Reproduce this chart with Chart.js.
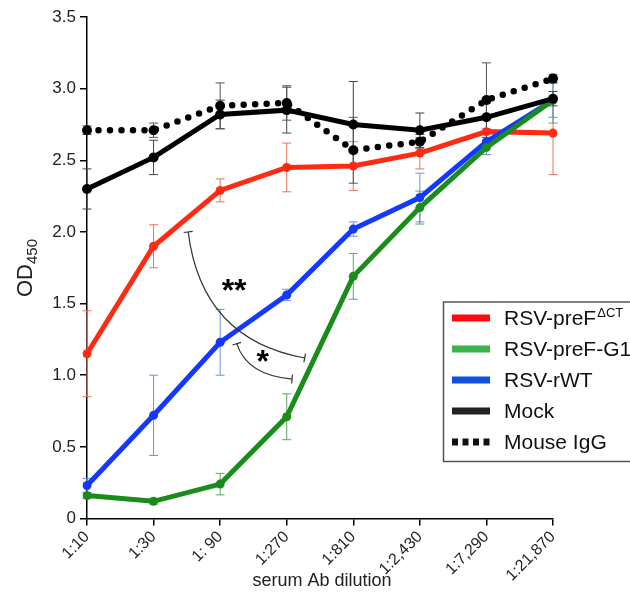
<!DOCTYPE html>
<html lang="en">
<head>
<meta charset="UTF-8">
<title>OD450 vs serum Ab dilution</title>
<script src="https://cdn.jsdelivr.net/npm/chart.js"></script>
<style>
  html, body { margin: 0; padding: 0; background: #fff; }
  #grafico { display: block; }
</style>
</head>
<body>
<canvas id="grafico" width="630" height="599"></canvas>
<script>
// diluicoes do soro (eixo x)
const diluicoes = ['1:10', '1:30', '1: 90', '1:270', '1:810', '1:2,430', '1:7,290', '1:21,870'];

// valores de OD450, com desvio
const preFdCT    = [1.15, 1.90, 2.29, 2.45, 2.46, 2.55, 2.70, 2.69];
const preFdCTErr = [0.30, 0.15, 0.08, 0.17, 0.17, 0.11, 0.11, 0.29];
const preFG1     = [0.16, 0.12, 0.24, 0.71, 1.69, 2.17, 2.59, 2.92];
const preFG1Err  = [0.02, 0.02, 0.075, 0.16, 0.16, 0.115, 0.05, 0.16];
const rWT        = [0.23, 0.72, 1.23, 1.56, 2.02, 2.24, 2.63, 2.92];
const rWTErr     = [0.05, 0.28, 0.23, 0.04, 0.05, 0.17, 0.09, 0.12];
const mock       = [2.30, 2.52, 2.82, 2.85, 2.75, 2.71, 2.80, 2.93];
const mockErr    = [0.14, 0.12, 0.10, 0.16, 0.30, 0.12, 0.10, 0.05];
const mouseIgG   = [2.71, 2.71, 2.88, 2.90, 2.57, 2.63, 2.92, 3.07];
const mouseIgGErr = [0.03, 0.05, 0.16, 0.12, 0.23, 0.05, 0.26, 0.03];

// ticks do eixo y
const yTicks = [0, 0.5, 1.0, 1.5, 2.0, 2.5, 3.0, 3.5];

// colchetes de significancia: [inicio, controle, fim] em (indice, OD)
const colchetes = [
  { ini: [1.52, 2.00], ctrl: [1.72, 1.25], fim: [3.27, 1.12], texto: '**', pos: [2.21, 1.64] },
  { ini: [2.25, 1.22], ctrl: [2.40, 1.00], fim: [3.08, 0.973], texto: '*', pos: [2.64, 1.15] }
];

const FONTE = '"Liberation Sans", Arial, Helvetica, sans-serif';

const series = [
  { nome: 'RSV-preF', sup: '\u0394CT', dados: preFdCT, err: preFdCTErr, cor: '#ff2a12', corErr: '#e8735f', corLeg: '#ff0a0a' },
  { nome: 'RSV-preF-G1', dados: preFG1, err: preFG1Err, cor: '#198c1c', corErr: '#5aa85a', corLeg: '#3cb34a' },
  { nome: 'RSV-rWT', dados: rWT, err: rWTErr, cor: '#1438ff', corErr: '#6e8ef0', corLeg: '#1050e0' },
  { nome: 'Mock', dados: mock, err: mockErr, cor: '#000000', corErr: '#444444', corLeg: '#222222' },
  { nome: 'Mouse IgG', dados: mouseIgG, err: mouseIgGErr, cor: '#000000', corErr: '#555555', corLeg: '#111111', pontilhado: true }
];

const ordem = [4, 2, 3, 1, 0];

const extras = {
  id: 'extras',
  beforeDatasetsDraw(chart) {
    const { ctx, scales: { x, y } } = chart;
    ctx.save();
    ctx.lineWidth = 1;
    series.forEach(s => {
      ctx.strokeStyle = s.corErr;
      s.dados.forEach((v, i) => {
        const px = x.getPixelForValue(i);
        const top = y.getPixelForValue(v + s.err[i]);
        const bot = y.getPixelForValue(v - s.err[i]);
        ctx.beginPath();
        ctx.moveTo(px, top); ctx.lineTo(px, bot);
        ctx.moveTo(px - 4.5, top); ctx.lineTo(px + 4.5, top);
        ctx.moveTo(px - 4.5, bot); ctx.lineTo(px + 4.5, bot);
        ctx.stroke();
      });
    });
    ctx.restore();
  },
  afterDraw(chart) {
    const { ctx, scales: { x, y } } = chart;
    const pt = p => [x.getPixelForValue(p[0]), y.getPixelForValue(p[1])];
    ctx.save();

    // colchetes
    colchetes.forEach(c => {
      const a = pt(c.ini), k = pt(c.ctrl), b = pt(c.fim);
      ctx.strokeStyle = '#333';
      ctx.lineWidth = 1.2;
      ctx.beginPath();
      ctx.moveTo(a[0], a[1]);
      ctx.quadraticCurveTo(k[0], k[1], b[0], b[1]);
      ctx.stroke();
      [[a, k], [b, k]].forEach(([p, q]) => {
        let dx = q[0] - p[0], dy = q[1] - p[1];
        const len = Math.hypot(dx, dy);
        dx /= len; dy /= len;
        ctx.beginPath();
        ctx.moveTo(p[0] - dy * 4.5, p[1] + dx * 4.5);
        ctx.lineTo(p[0] + dy * 4.5, p[1] - dx * 4.5);
        ctx.stroke();
      });
      const t = pt(c.pos);
      ctx.fillStyle = '#000';
      ctx.font = 'bold 32px ' + FONTE;
      ctx.textAlign = 'center';
      ctx.textBaseline = 'middle';
      ctx.fillText(c.texto, t[0], t[1] + 9);
    });

    // legenda
    ctx.strokeStyle = '#555';
    ctx.lineWidth = 1.5;
    ctx.fillStyle = '#fff';
    ctx.fillRect(443.5, 302, 200, 159.5);
    ctx.strokeRect(443.5, 302, 200, 159.5);
    const linhas = [318, 349, 380, 411, 442];
    series.forEach((s, i) => {
      const yy = linhas[i];
      ctx.strokeStyle = s.corLeg;
      ctx.lineWidth = 7;
      ctx.setLineDash(s.pontilhado ? [6, 4.5] : []);
      ctx.beginPath();
      ctx.moveTo(452, yy); ctx.lineTo(490, yy);
      ctx.stroke();
      ctx.setLineDash([]);
      ctx.fillStyle = '#111';
      ctx.font = '21px ' + FONTE;
      ctx.textAlign = 'left';
      ctx.textBaseline = 'middle';
      ctx.fillText(s.nome, 504, yy + 1);
      if (s.sup) {
        const w = ctx.measureText(s.nome).width;
        ctx.font = '13px ' + FONTE;
        ctx.fillText(s.sup, 504 + w + 1, yy - 5);
      }
    });

    // titulo do eixo x
    ctx.fillStyle = '#222';
    ctx.font = '18px ' + FONTE;
    ctx.textAlign = 'center';
    ctx.textBaseline = 'middle';
    ctx.fillText('serum Ab dilution', 322, 581);

    // titulo do eixo y com subscrito
    ctx.translate(26, 268);
    ctx.rotate(-Math.PI / 2);
    ctx.font = '22px ' + FONTE;
    const wOD = ctx.measureText('OD').width;
    ctx.font = '15px ' + FONTE;
    const wSub = ctx.measureText('450').width;
    const x0 = -(wOD + wSub) / 2;
    ctx.textAlign = 'left';
    ctx.textBaseline = 'middle';
    ctx.font = '22px ' + FONTE;
    ctx.fillText('OD', x0, 0);
    ctx.font = '15px ' + FONTE;
    ctx.fillText('450', x0 + wOD, 7);
    ctx.restore();
  }
};

const datasets = series.map((s, i) => ({
  label: s.nome,
  data: s.dados,
  borderColor: s.cor,
  backgroundColor: s.cor,
  pointBackgroundColor: s.cor,
  pointBorderColor: s.cor,
  pointBorderWidth: 0,
  pointRadius: (s.cor === '#000000') ? 5 : 4.5,
  borderWidth: s.pontilhado ? 6.5 : 5,
  borderDash: s.pontilhado ? [0, 11.5] : [],
  borderCapStyle: s.pontilhado ? 'round' : 'butt',
  tension: 0,
  fill: false,
  order: ordem[i]
}));

new Chart(document.getElementById('grafico'), {
  type: 'line',
  data: { labels: diluicoes, datasets: datasets },
  options: {
    responsive: false,
    animation: false,
    layout: { padding: { top: 17, right: 77, left: 0, bottom: 0 } },
    plugins: { legend: { display: false }, tooltip: { enabled: false } },
    scales: {
      x: {
        type: 'category',
        offset: false,
        grid: { display: true, drawOnChartArea: false, tickLength: 7, color: '#000', lineWidth: 1.5 },
        border: { display: true, color: '#000', width: 1.5 },
        ticks: { minRotation: 45, maxRotation: 45, autoSkip: false, color: '#222', padding: 2,
                 font: { family: FONTE, size: 16 } },
        afterFit(s) { s.height = 80.5; }
      },
      y: {
        min: 0,
        max: 3.5,
        afterBuildTicks(s) { s.ticks = yTicks.map(v => ({ value: v })); },
        grid: { display: true, drawOnChartArea: false, tickLength: 7, color: '#000', lineWidth: 1.5 },
        border: { display: true, color: '#000', width: 1.5 },
        ticks: { color: '#222', padding: 4, font: { family: FONTE, size: 17 },
                 callback: v => v === 0 ? '0' : v.toFixed(1) },
        afterFit(s) { s.width = 87; }
      }
    }
  },
  plugins: [extras]
});
</script>
</body>
</html>
